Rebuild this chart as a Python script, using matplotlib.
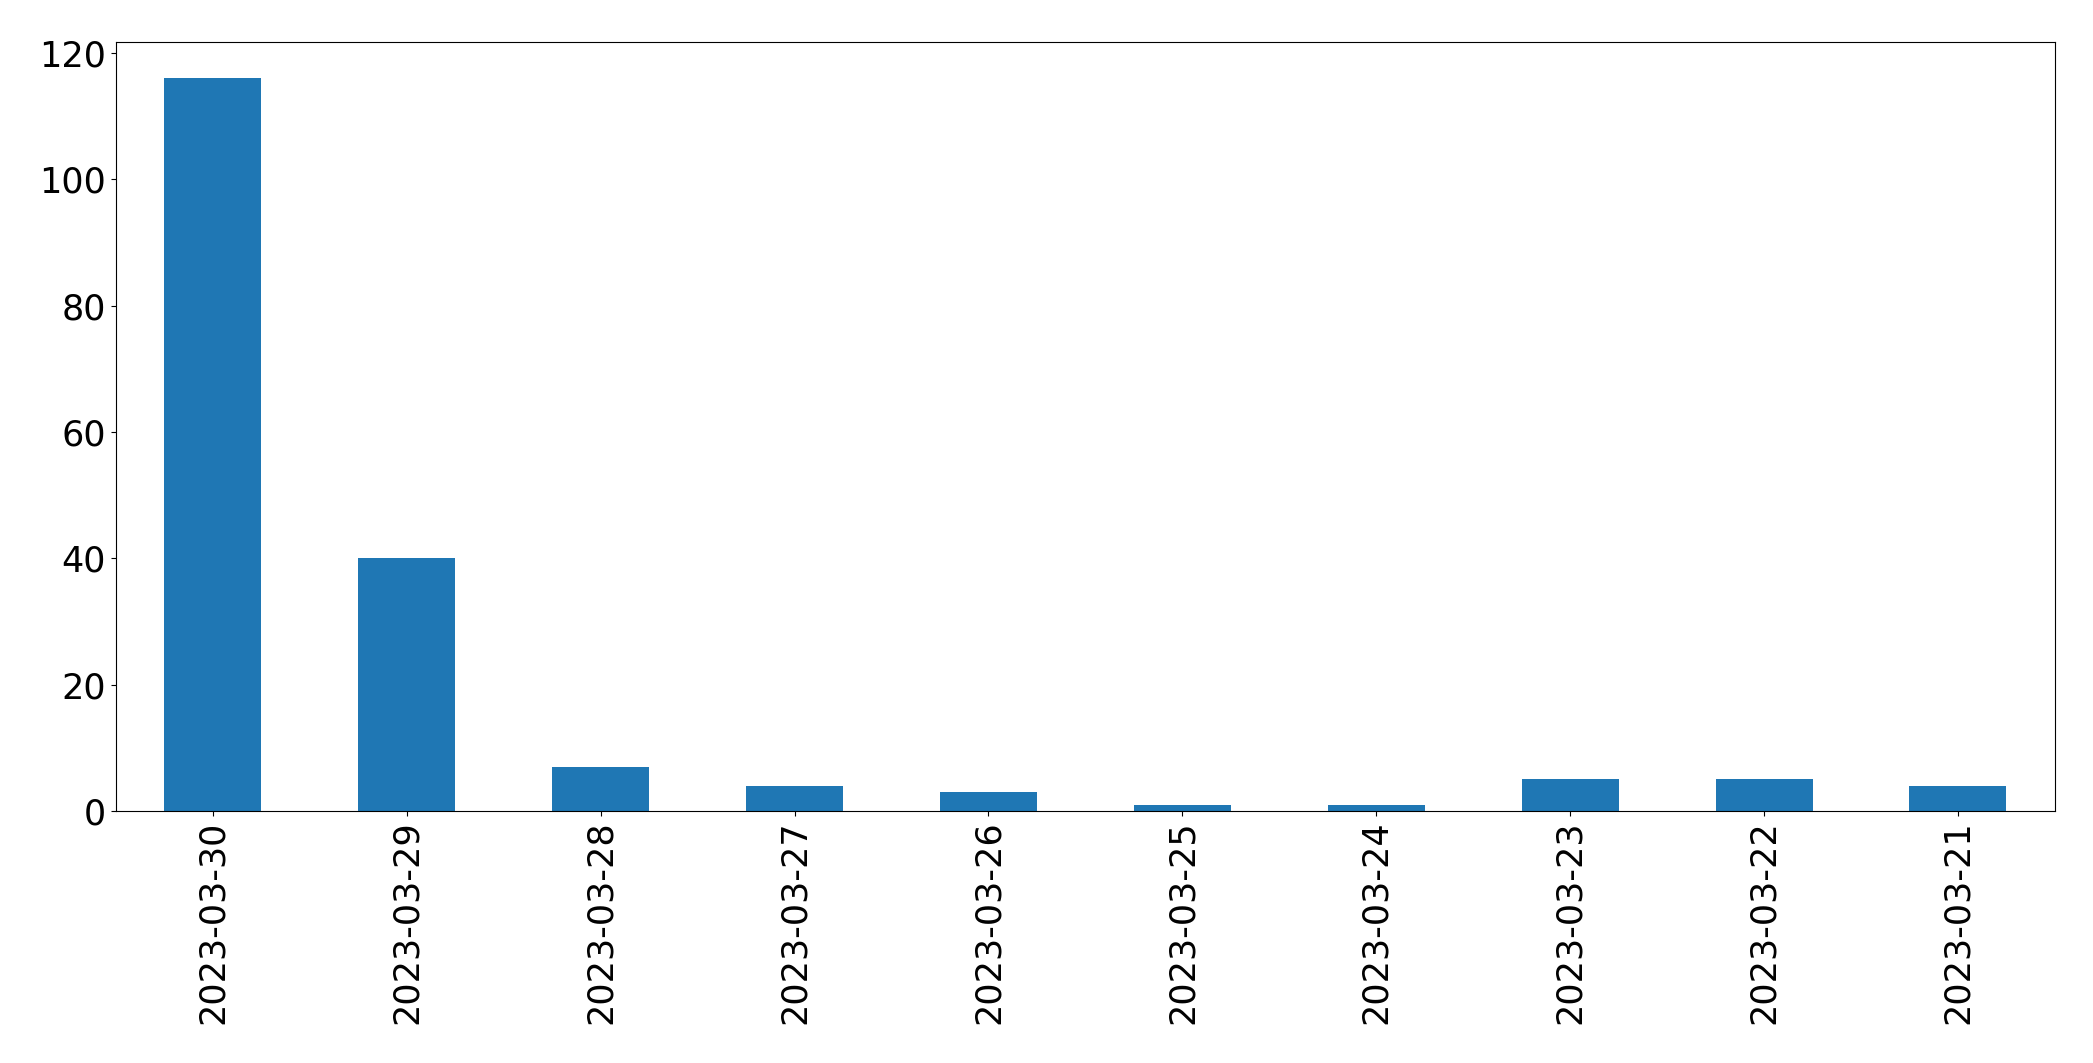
import matplotlib
matplotlib.use("Agg")
import matplotlib.pyplot as plt

dates = ["2023-03-30", "2023-03-29", "2023-03-28", "2023-03-27", "2023-03-26",
         "2023-03-25", "2023-03-24", "2023-03-23", "2023-03-22", "2023-03-21"]
counts = [116, 40, 7, 4, 3, 1, 1, 5, 5, 4]

fig = plt.figure(figsize=(20.93, 10.63), dpi=100)
ax = fig.add_axes([0.0554, 0.2371, 0.9264, 0.7237])
x = list(range(len(dates)))
ax.bar(x, counts, width=0.5, color="#1f77b4")
ax.set_xlim(-0.5, len(dates) - 0.5)
ax.set_xticks(x)
ax.set_xticklabels(dates, rotation=90)
ax.set_yticks([0, 20, 40, 60, 80, 100, 120])
ax.tick_params(labelsize=25.2)
fig.savefig("out.png", dpi=100)
